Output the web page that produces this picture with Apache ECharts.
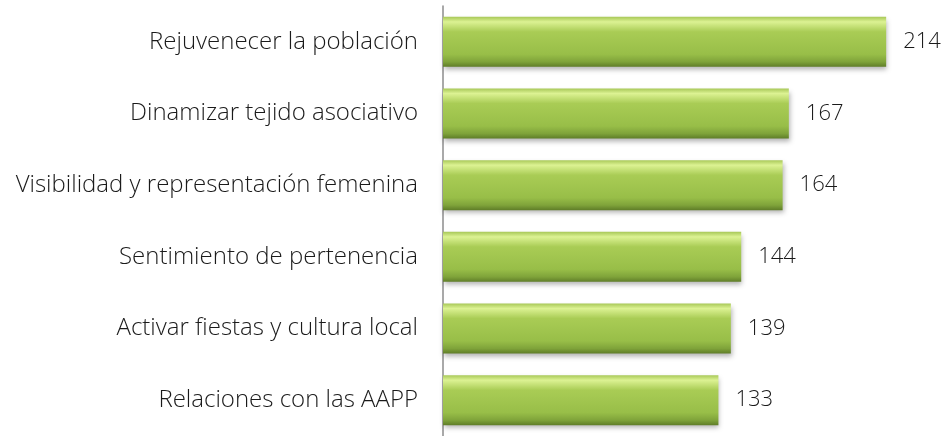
<!DOCTYPE html>
<html>
<head>
<meta charset="utf-8">
<script src="https://cdn.jsdelivr.net/npm/echarts@6/dist/echarts.min.js"></script>
<style>
  html, body { margin: 0; padding: 0; background: #fff; }
  #main { width: 944px; height: 436px; }
</style>
</head>
<body>
<div id="main"></div>
<script>
var categories = [
    'Rejuvenecer la población',
    'Dinamizar tejido asociativo',
    'Visibilidad y representación femenina',
    'Sentimiento de pertenencia',
    'Activar fiestas y cultura local',
    'Relaciones con las AAPP'
];
var values = [214, 167, 164, 144, 139, 133];

var chartDom = document.getElementById('main');
var myChart = echarts.init(chartDom);
var option;

option = {
    animation: false,
    grid: {
        left: 443,
        right: 4,
        top: 6,
        bottom: -4,
        containLabel: false
    },
    xAxis: {
        type: 'value',
        min: 0,
        max: 240,
        show: false
    },
    yAxis: {
        type: 'category',
        inverse: true,
        data: categories,
        axisLine: { lineStyle: { color: '#8c8c8c', width: 1.5 } },
        axisTick: { show: false },
        axisLabel: {
            margin: 25,
            fontFamily: 'Open Sans',
            fontWeight: 300,
            fontSize: 24,
            color: '#1a1a1a'
        }
    },
    series: [
        {
            type: 'bar',
            data: values,
            barWidth: 50,
            itemStyle: {
                color: new echarts.graphic.LinearGradient(0, 0, 0, 1, [
                    { offset: 0, color: '#a8c858' },
                    { offset: 0.1, color: '#dcf293' },
                    { offset: 0.3, color: '#a9cc55' },
                    { offset: 0.75, color: '#98be48' },
                    { offset: 0.9, color: '#7fa33a' },
                    { offset: 1, color: '#5f7d28' }
                ]),
                shadowColor: 'rgba(0,0,0,0.3)',
                shadowBlur: 5,
                shadowOffsetY: 3,
                shadowOffsetX: 1
            },
            label: {
                show: true,
                position: 'right',
                distance: 17,
                fontFamily: 'Open Sans',
                fontWeight: 300,
                fontSize: 22,
                color: '#1a1a1a'
            }
        }
    ]
};

option && myChart.setOption(option);
</script>
</body>
</html>
